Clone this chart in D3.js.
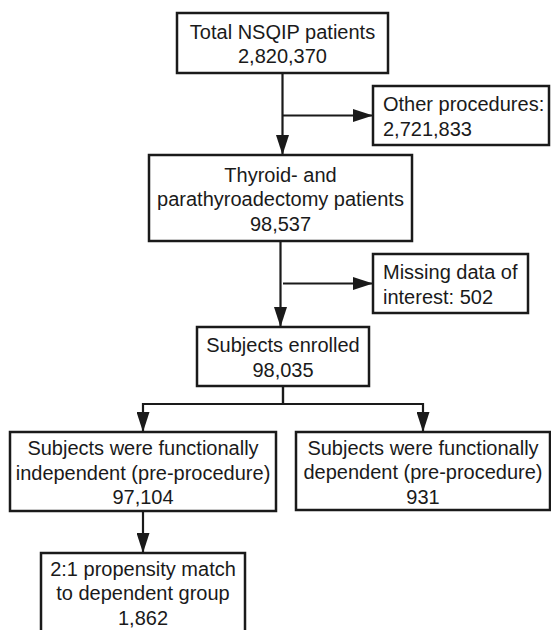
<!DOCTYPE html>
<html>
<head>
<meta charset="utf-8">
<script src="https://cdn.jsdelivr.net/npm/d3@7"></script>
<style>
  body { margin: 0; background: #fff; }
  svg text { font-family: "Liberation Sans", Arial, sans-serif; fill: #1a1a1a; }
</style>
</head>
<body>
<svg id="chart"></svg>
<script>
// flow steps: label lines and patient counts
var stepIds = ['total', 'other', 'thyroid', 'missing', 'enrolled', 'indep', 'dep', 'match'];
var stepLabels = [
  ['Total NSQIP patients'],
  ['Other procedures:'],
  ['Thyroid- and', 'parathyroadectomy patients'],
  ['Missing data of', 'interest: 502'],
  ['Subjects enrolled'],
  ['Subjects were functionally', 'independent (pre-procedure)'],
  ['Subjects were functionally', 'dependent (pre-procedure)'],
  ['2:1 propensity match', 'to dependent group']
];
var stepCounts = [2820370, 2721833, 98537, null, 98035, 97104, 931, 1862];
var links = [
  ['total', 'thyroid'], ['total', 'other'],
  ['thyroid', 'enrolled'], ['thyroid', 'missing'],
  ['enrolled', 'indep'], ['enrolled', 'dep'],
  ['indep', 'match']
];

(function() {
  var width = 551, height = 630;
  var fontSize = 20, lineH = 24.5;

  // box geometry: x0, y0, x1, y1, text alignment
  var layout = {
    total:    {x0: 177, y0: 13,  x1: 388, y1: 73,  align: 'middle'},
    other:    {x0: 373, y0: 86,  x1: 549, y1: 145, align: 'start'},
    thyroid:  {x0: 149, y0: 155, x1: 412, y1: 241, align: 'middle'},
    missing:  {x0: 373, y0: 254, x1: 528, y1: 313, align: 'start'},
    enrolled: {x0: 197, y0: 327, x1: 369, y1: 386, align: 'middle'},
    indep:    {x0: 10,  y0: 432, x1: 276, y1: 511, align: 'middle'},
    dep:      {x0: 296, y0: 432, x1: 550, y1: 510, align: 'middle'},
    match:    {x0: 41,  y0: 553, x1: 245, y1: 645, align: 'middle'}
  };
  var spineX = 283, splitY = 404;

  var fmt = d3.format(',');
  var nodes = stepIds.map(function(id, i) {
    var lines = stepLabels[i].slice();
    if (stepCounts[i] != null) lines.push(fmt(stepCounts[i]));
    return Object.assign({id: id, lines: lines}, layout[id]);
  });
  var byId = {};
  nodes.forEach(function(n) { byId[n.id] = n; });

  var svg = d3.select('#chart').attr('width', width).attr('height', height);

  svg.append('defs').append('marker')
      .attr('id', 'arrow')
      .attr('viewBox', '0 0 20 13')
      .attr('refX', 20).attr('refY', 6.5)
      .attr('markerWidth', 20).attr('markerHeight', 13)
      .attr('markerUnits', 'userSpaceOnUse')
      .attr('orient', 'auto')
    .append('path')
      .attr('d', 'M0,0L20,6.5L0,13Z')
      .attr('fill', '#1a1a1a');

  function linkPath(l) {
    var s = byId[l[0]], t = byId[l[1]];
    var sx = (s.x0 + s.x1) / 2, tx = (t.x0 + t.x1) / 2;
    if (t.align === 'start') {
      // side branch off the spine
      var by = (t.y0 + t.y1) / 2;
      return d3.line()([[spineX, by], [t.x0, by]]);
    }
    if (l[0] === 'enrolled') {
      return d3.line()([[sx, s.y1], [sx, splitY], [tx, splitY], [tx, t.y0]]);
    }
    return d3.line()([[sx, s.y1], [sx, t.y0]]);
  }

  svg.append('g').selectAll('path')
    .data(links)
    .join('path')
      .attr('d', linkPath)
      .attr('fill', 'none')
      .attr('stroke', '#1a1a1a')
      .attr('stroke-width', 2.2)
      .attr('marker-end', 'url(#arrow)');

  var box = svg.append('g').selectAll('g')
    .data(nodes)
    .join('g');

  box.append('rect')
      .attr('x', function(d) { return d.x0; })
      .attr('y', function(d) { return d.y0; })
      .attr('width', function(d) { return d.x1 - d.x0; })
      .attr('height', function(d) { return d.y1 - d.y0; })
      .attr('fill', '#fff')
      .attr('stroke', '#1a1a1a')
      .attr('stroke-width', 2.5);

  box.each(function(d) {
    var g = d3.select(this);
    var n = d.lines.length;
    var cy = (d.id === 'match' ? 592 : (d.y0 + d.y1) / 2) + 1;
    var x = d.align === 'start' ? d.x0 + 10 : (d.x0 + d.x1) / 2;
    g.selectAll('text')
      .data(d.lines)
      .join('text')
        .attr('x', x)
        .attr('y', function(t, i) { return cy + (i - (n - 1) / 2) * lineH; })
        .attr('dy', '0.35em')
        .attr('text-anchor', d.align)
        .style('font-size', fontSize + 'px')
        .text(function(t) { return t; });
  });
})();
</script>
</body>
</html>
